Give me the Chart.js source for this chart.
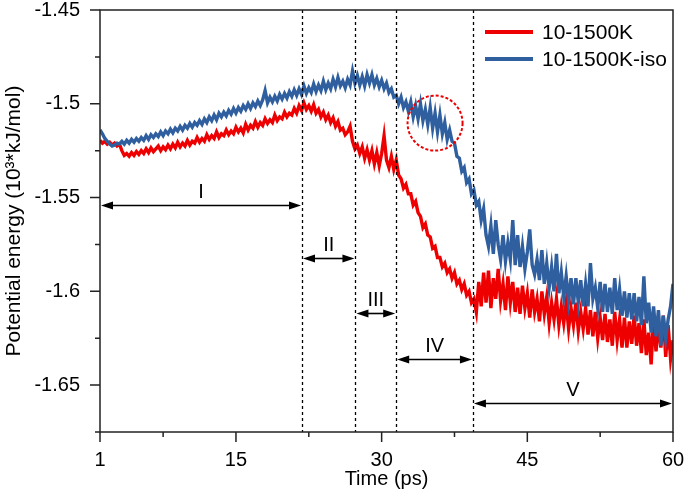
<!DOCTYPE html>
<html>
<head>
<meta charset="utf-8">
<script src="https://cdn.jsdelivr.net/npm/chart.js@4/dist/chart.umd.min.js"></script>
<style>
  html, body { margin: 0; padding: 0; background: #fff; }
  #wrap { width: 685px; height: 491px; }
</style>
</head>
<body>
<div id="wrap"><canvas id="c" width="685" height="491"></canvas></div>
<script>
const times = [
1,1.25,1.5,1.75,2,2.25,2.5,2.75,3,3.25,3.5,3.75,4,4.25,4.5,4.75,5,5.25,5.5,5.75,
6,6.25,6.5,6.75,7,7.25,7.5,7.75,8,8.25,8.5,8.75,9,9.25,9.5,9.75,10,10.25,10.5,10.75,
11,11.25,11.5,11.75,12,12.25,12.5,12.75,13,13.25,13.5,13.75,14,14.25,14.5,14.75,15,15.25,15.5,15.75,
16,16.25,16.5,16.75,17,17.25,17.5,17.75,18,18.25,18.5,18.75,19,19.25,19.5,19.75,20,20.25,20.5,20.75,
21,21.25,21.5,21.75,22,22.25,22.5,22.75,23,23.25,23.5,23.75,24,24.25,24.5,24.75,25,25.25,25.5,25.75,
26,26.25,26.5,26.75,27,27.25,27.5,27.75,28,28.25,28.5,28.75,29,29.25,29.5,29.75,30,30.25,30.5,30.75,
31,31.25,31.5,31.75,32,32.25,32.5,32.75,33,33.25,33.5,33.75,34,34.25,34.5,34.75,35,35.25,35.5,35.75,
36,36.25,36.5,36.75,37,37.25,37.5,37.75,38,38.25,38.5,38.75,39,39.25,39.5,39.75,40,40.25,40.5,40.75,
41,41.25,41.5,41.75,42,42.25,42.5,42.75,43,43.25,43.5,43.75,44,44.25,44.5,44.75,45,45.25,45.5,45.75,
46,46.25,46.5,46.75,47,47.25,47.5,47.75,48,48.25,48.5,48.75,49,49.25,49.5,49.75,50,50.25,50.5,50.75,
51,51.25,51.5,51.75,52,52.25,52.5,52.75,53,53.25,53.5,53.75,54,54.25,54.5,54.75,55,55.25,55.5,55.75,
56,56.25,56.5,56.75,57,57.25,57.5,57.75,58,58.25,58.5,58.75,59,59.25,59.5,59.75,60];

const red = [
-1.5195,-1.5210,-1.5200,-1.5215, -1.5205,-1.5220,-1.5210,-1.5225, -1.5215,-1.5250,-1.5275,-1.5265,
-1.5280,-1.5260,-1.5275,-1.5255, -1.5270,-1.5250,-1.5265,-1.5240, -1.5260,-1.5235,-1.5255,-1.5240,
-1.5225,-1.5250,-1.5230,-1.5245, -1.5220,-1.5240,-1.5215,-1.5235, -1.5205,-1.5230,-1.5210,-1.5225,
-1.5195,-1.5220,-1.5200,-1.5210, -1.5180,-1.5205,-1.5185,-1.5200, -1.5165,-1.5190,-1.5170,-1.5185,
-1.5150,-1.5180,-1.5160,-1.5170, -1.5140,-1.5165,-1.5145,-1.5160, -1.5125,-1.5150,-1.5130,-1.5155,
-1.5110,-1.5140,-1.5115,-1.5130, -1.5095,-1.5125,-1.5100,-1.5115, -1.5080,-1.5105,-1.5085,-1.5100,
-1.5060,-1.5090,-1.5070,-1.5080, -1.5045,-1.5070,-1.5050,-1.5060, -1.5025,-1.5050,-1.5010,-1.5035,
-1.4995,-1.5030,-1.5010,-1.5040, -1.5005,-1.5050,-1.5030,-1.5070, -1.5045,-1.5085,-1.5060,-1.5100,
-1.5075,-1.5120,-1.5095,-1.5140, -1.5130,-1.5165,-1.5150,-1.5120, -1.5200,-1.5240,-1.5220,-1.5265,
-1.5230,-1.5290,-1.5245,-1.5300, -1.5250,-1.5320,-1.5260,-1.5330, -1.5265,-1.5170,-1.5300,-1.5340,
-1.5280,-1.5350,-1.5300,-1.5380, -1.5400,-1.5450,-1.5430,-1.5480, -1.5480,-1.5540,-1.5520,-1.5580,
-1.5600,-1.5660,-1.5640,-1.5700, -1.5710,-1.5770,-1.5760,-1.5820, -1.5820,-1.5870,-1.5850,-1.5900,
-1.5880,-1.5930,-1.5900,-1.5960, -1.5940,-1.5990,-1.5960,-1.6020, -1.6000,-1.6060,-1.6040,-1.6110,
-1.5950,-1.6080,-1.5900,-1.6060, -1.5890,-1.6090,-1.5930,-1.6040, -1.5880,-1.6050,-1.5960,-1.6100,
-1.5920,-1.6060,-1.5950,-1.6110, -1.5980,-1.6120,-1.5970,-1.6090, -1.6010,-1.6140,-1.5990,-1.6110,
-1.6040,-1.6160,-1.6000,-1.6120, -1.6030,-1.6170,-1.6060,-1.6150, -1.6040,-1.6180,-1.6080,-1.6170,
-1.6060,-1.6200,-1.6090,-1.6180, -1.6060,-1.6210,-1.6110,-1.6200, -1.6090,-1.6230,-1.6100,-1.6240,
-1.6110,-1.6250,-1.6140,-1.6260, -1.6120,-1.6270,-1.6150,-1.6290, -1.6110,-1.6260,-1.6150,-1.6300,
-1.6140,-1.6300,-1.6160,-1.6280, -1.6130,-1.6290,-1.6170,-1.6330, -1.6150,-1.6340,-1.6220,-1.6390,
-1.6140,-1.6320,-1.6180,-1.6300, -1.6130,-1.6350,-1.6180,-1.6360, -1.6260];

const blue = [
-1.5140,-1.5160,-1.5185,-1.5200, -1.5215,-1.5225,-1.5220,-1.5210, -1.5215,-1.5200,-1.5215,-1.5195,
-1.5210,-1.5190,-1.5205,-1.5185, -1.5200,-1.5180,-1.5195,-1.5170, -1.5190,-1.5165,-1.5180,-1.5160,
-1.5175,-1.5150,-1.5170,-1.5145, -1.5160,-1.5135,-1.5155,-1.5130, -1.5145,-1.5120,-1.5140,-1.5115,
-1.5130,-1.5105,-1.5125,-1.5100, -1.5115,-1.5090,-1.5110,-1.5080, -1.5100,-1.5070,-1.5090,-1.5060,
-1.5085,-1.5050,-1.5070,-1.5045, -1.5065,-1.5035,-1.5055,-1.5025, -1.5050,-1.5020,-1.5040,-1.5010,
-1.5030,-1.5000,-1.5025,-1.4995, -1.5015,-1.4985,-1.5010,-1.4980, -1.4930,-1.4995,-1.4965,-1.4990,
-1.4960,-1.4985,-1.4950,-1.4975, -1.4945,-1.4970,-1.4935,-1.4960, -1.4925,-1.4955,-1.4920,-1.4950,
-1.4905,-1.4945,-1.4915,-1.4940, -1.4895,-1.4935,-1.4900,-1.4930, -1.4880,-1.4925,-1.4890,-1.4920,
-1.4870,-1.4910,-1.4860,-1.4905, -1.4880,-1.4915,-1.4870,-1.4900, -1.4825,-1.4890,-1.4850,-1.4900,
-1.4855,-1.4905,-1.4845,-1.4890, -1.4845,-1.4900,-1.4865,-1.4910, -1.4875,-1.4920,-1.4890,-1.4940,
-1.4920,-1.4965,-1.4955,-1.5000, -1.4965,-1.5020,-1.4990,-1.5040, -1.4990,-1.5070,-1.5010,-1.5080,
-1.5000,-1.5090,-1.5030,-1.5110, -1.5020,-1.5130,-1.5050,-1.5150, -1.5060,-1.5160,-1.5100,-1.5190,
-1.5140,-1.5200,-1.5210,-1.5280, -1.5290,-1.5360,-1.5340,-1.5420, -1.5400,-1.5480,-1.5460,-1.5540,
-1.5520,-1.5620,-1.5560,-1.5700, -1.5760,-1.5650,-1.5800,-1.5620, -1.5750,-1.5830,-1.5700,-1.5840,
-1.5740,-1.5830,-1.5620,-1.5860, -1.5700,-1.5870,-1.5760,-1.5880, -1.5790,-1.5670,-1.5860,-1.5910,
-1.5830,-1.5940,-1.5780,-1.5960, -1.5850,-1.5980,-1.5870,-1.6000, -1.5800,-1.6010,-1.5900,-1.6030,
-1.5920,-1.6050,-1.5930,-1.6070, -1.5930,-1.6060,-1.5940,-1.6080, -1.5960,-1.6080,-1.5850,-1.6040,
-1.5980,-1.6090,-1.5950,-1.6110, -1.5960,-1.6110,-1.5980,-1.6120, -1.5930,-1.6100,-1.5990,-1.6130,
-1.6000,-1.6140,-1.6010,-1.6150, -1.6010,-1.6160,-1.6030,-1.6180, -1.5920,-1.6170,-1.6060,-1.6220,
-1.6080,-1.6240,-1.6100,-1.6290, -1.6130,-1.6250,-1.6150,-1.6080, -1.5960];

const seriesNames = ['10-1500K', '10-1500K-iso'];
const xMajor = [1, 15, 30, 45, 60];
const xMinor = [7.5, 22.5, 37.5, 52.5];
const yMajor = [-1.65, -1.6, -1.55, -1.5, -1.45];
const yMinor = [-1.675, -1.625, -1.575, -1.525, -1.475];
const boundaries = [1, 21.8, 27.3, 31.5, 39.4, 60];
const phaseNames = ['I', 'II', 'III', 'IV', 'V'];
const arrowLevels = [-1.554, -1.5823, -1.6117, -1.6362, -1.6597];
const circleCenter = [35.5, -1.5103];

const RED = '#ee0000';
const BLUE = '#2f5f9f';
const FONT = 'Arial, "Liberation Sans", sans-serif';

const overlay = {
  id: 'overlay',
  afterDatasetsDraw(chart) {
    const {ctx, chartArea: a, scales: {x, y}} = chart;
    ctx.save();
    ctx.strokeStyle = '#000';
    ctx.lineWidth = 1.3;
    ctx.setLineDash([3, 3]);
    boundaries.slice(1, -1).forEach(b => {
      const px = Math.round(x.getPixelForValue(b)) + 0.5;
      ctx.beginPath(); ctx.moveTo(px, a.top); ctx.lineTo(px, a.bottom); ctx.stroke();
    });
    ctx.setLineDash([]);
    ctx.fillStyle = '#000';
    ctx.lineWidth = 1.6;
    ctx.font = '20px ' + FONT;
    ctx.textAlign = 'center';
    ctx.textBaseline = 'alphabetic';
    const hl = 12, hh = 4;
    for (let i = 0; i < phaseNames.length; i++) {
      const x1 = x.getPixelForValue(boundaries[i]) + 1;
      const x2 = x.getPixelForValue(boundaries[i + 1]) - 1;
      const py = Math.round(y.getPixelForValue(arrowLevels[i])) + 0.5;
      ctx.beginPath(); ctx.moveTo(x1 + hl - 2, py); ctx.lineTo(x2 - hl + 2, py); ctx.stroke();
      ctx.beginPath(); ctx.moveTo(x1, py); ctx.lineTo(x1 + hl, py - hh); ctx.lineTo(x1 + hl, py + hh); ctx.closePath(); ctx.fill();
      ctx.beginPath(); ctx.moveTo(x2, py); ctx.lineTo(x2 - hl, py - hh); ctx.lineTo(x2 - hl, py + hh); ctx.closePath(); ctx.fill();
      ctx.fillText(phaseNames[i], (x1 + x2) / 2, py - 8);
    }
    ctx.strokeStyle = RED;
    ctx.lineWidth = 2;
    ctx.setLineDash([3, 2]);
    ctx.beginPath();
    ctx.arc(x.getPixelForValue(circleCenter[0]), y.getPixelForValue(circleCenter[1]), 27.5, 0, Math.PI * 2);
    ctx.stroke();
    ctx.setLineDash([]);
    ctx.strokeStyle = '#222';
    ctx.lineWidth = 1.5;
    ctx.strokeRect(a.left, a.top, a.right - a.left, a.bottom - a.top);
    ctx.beginPath();
    xMajor.forEach(v => { const p = x.getPixelForValue(v); ctx.moveTo(p, a.bottom); ctx.lineTo(p, a.bottom + 10); });
    xMinor.forEach(v => { const p = x.getPixelForValue(v); ctx.moveTo(p, a.bottom); ctx.lineTo(p, a.bottom + 5); });
    yMajor.forEach(v => { const p = y.getPixelForValue(v); ctx.moveTo(a.left, p); ctx.lineTo(a.left - 10, p); });
    yMinor.forEach(v => { const p = y.getPixelForValue(v); ctx.moveTo(a.left, p); ctx.lineTo(a.left - 5, p); });
    ctx.stroke();
    const lx1 = 485, lx2 = 533, ly = [32, 59], cols = [RED, BLUE];
    ctx.font = '21px ' + FONT;
    ctx.textAlign = 'left';
    ctx.textBaseline = 'middle';
    for (let i = 0; i < 2; i++) {
      ctx.strokeStyle = cols[i]; ctx.lineWidth = 4;
      ctx.beginPath(); ctx.moveTo(lx1, ly[i]); ctx.lineTo(lx2, ly[i]); ctx.stroke();
      ctx.fillStyle = '#000';
      ctx.fillText(seriesNames[i], 542, ly[i] + 1);
    }
    ctx.restore();
  }
};

function zeroPad(s) { s.paddingLeft = 0; s.paddingRight = 0; s.paddingTop = 0; s.paddingBottom = 0; }

new Chart(document.getElementById('c'), {
  type: 'line',
  data: {
    datasets: [
      { label: seriesNames[0], data: times.map((t, i) => ({x: t, y: red[i]})), borderColor: RED, borderWidth: 3.4, pointRadius: 0, tension: 0, order: 1 },
      { label: seriesNames[1], data: times.map((t, i) => ({x: t, y: blue[i]})), borderColor: BLUE, borderWidth: 3.4, pointRadius: 0, tension: 0, order: 0 }
    ]
  },
  options: {
    responsive: false,
    animation: false,
    devicePixelRatio: 1,
    layout: { padding: { left: 0, right: 12, top: 10, bottom: 0 } },
    plugins: { legend: { display: false }, tooltip: { enabled: false } },
    scales: {
      x: {
        type: 'linear', min: 1, max: 60,
        afterBuildTicks: s => { s.ticks = xMajor.map(v => ({value: v})); },
        afterFit: s => { s.height = 59; zeroPad(s); },
        grid: { drawOnChartArea: false, drawTicks: false },
        border: { display: false },
        ticks: { color: '#000', font: { size: 20, family: FONT, lineHeight: 1 }, padding: 18, autoSkip: false, maxRotation: 0, callback: v => String(v) },
        title: { display: true, text: 'Time (ps)', color: '#000', font: { size: 20, family: FONT, lineHeight: 1.2 }, padding: { top: 0, bottom: 0 } }
      },
      y: {
        type: 'linear', min: -1.675, max: -1.45,
        afterBuildTicks: s => { s.ticks = yMajor.map(v => ({value: v})); },
        afterFit: s => { s.width = 100; zeroPad(s); },
        grid: { drawOnChartArea: false, drawTicks: false },
        border: { display: false },
        ticks: { color: '#000', font: { size: 20, family: FONT, lineHeight: 1 }, padding: 20, autoSkip: false, callback: v => String(parseFloat(Number(v).toFixed(3))) },
        title: { display: true, text: 'Potential energy (10³*kJ/mol)', color: '#000', font: { size: 21, family: FONT, lineHeight: 1.2 }, padding: { top: 2, bottom: 0 } }
      }
    }
  },
  plugins: [overlay]
});
</script>
</body>
</html>
